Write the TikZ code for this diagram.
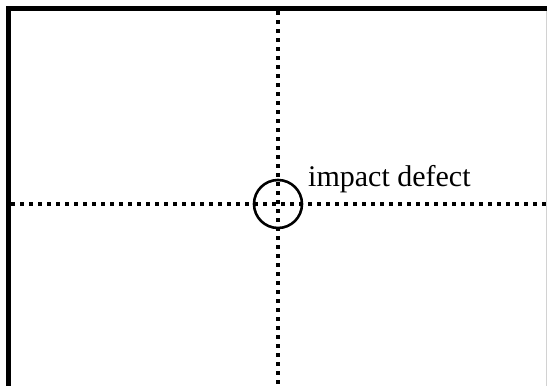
\documentclass[tikz,border=0pt]{standalone}
\usepackage{fontspec}
\setmainfont{Liberation Serif}
\usetikzlibrary{positioning}

\begin{document}
\begin{tikzpicture}[x=1pt,y=-1pt,
  frameline/.style={line width=5pt},
  dotline/.style={line width=3.5pt, dash pattern=on 3.5pt off 5.5pt}]
\useasboundingbox (0,0) rectangle (547,386);
% frame, open at the bottom
\coordinate (bl) at (8.5,386);
\coordinate (tl) at (8.5,8.5);
\coordinate (tr) at (547,8.5);
\draw [frameline] (bl) -- (tl) -- (tr);
\draw [gray!35, line width=1pt] (546.5,11) -- (546.5,386);
% axes through the defect
\coordinate (top) at (278,11);
\coordinate (bottom) at (278,386);
\coordinate (left) at (11,204);
\coordinate (right) at (547,204);
\path [dotline] (top) edge (bottom);
\path [dotline] (left) edge (right);
 \node (defect) [circle, draw, line width=2.6pt, minimum size=48pt, inner sep=0pt] at (278,204) {};
 \node (label) [anchor=base west, inner sep=0pt, font=\fontsize{30}{36}\selectfont] at (308,186) {impact defect};
\end{tikzpicture}
\end{document}
